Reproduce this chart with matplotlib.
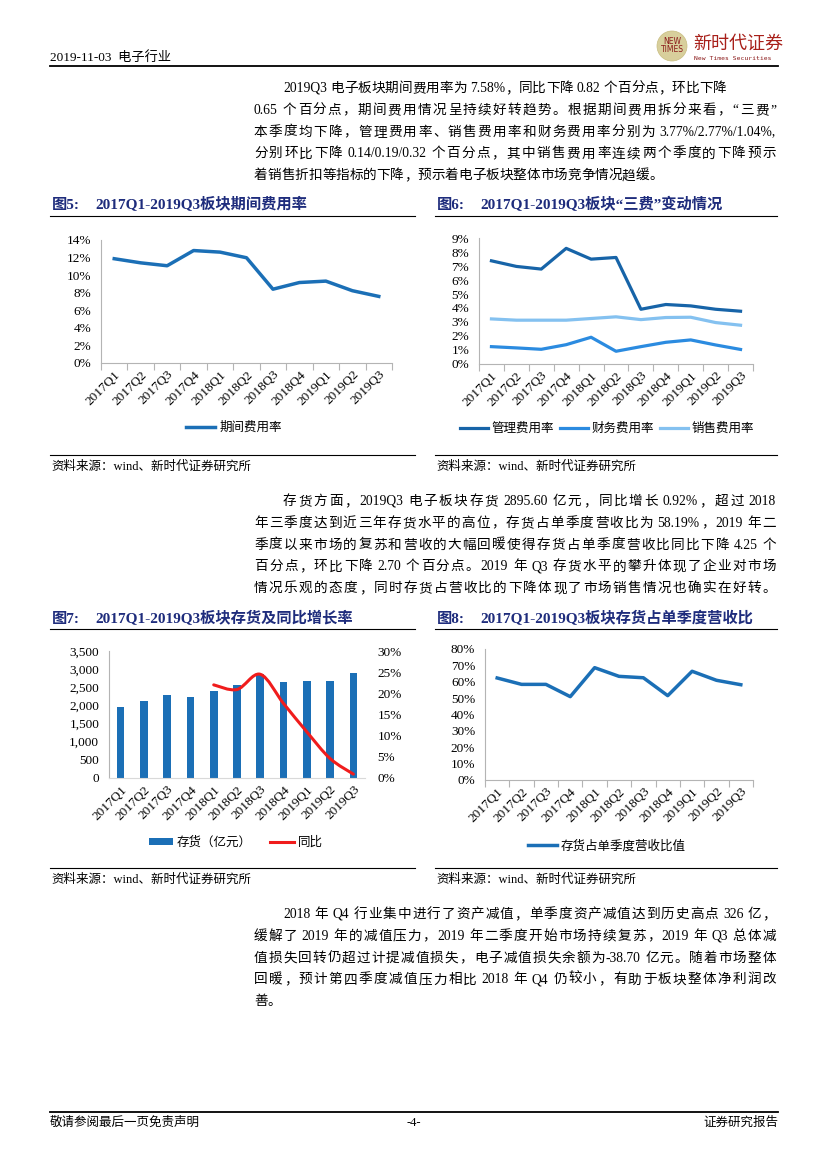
import numpy as np
import matplotlib
matplotlib.use('Agg')
import matplotlib.pyplot as plt
import matplotlib.ticker as mticker
from matplotlib.lines import Line2D
from matplotlib.patches import Ellipse, PathPatch
from matplotlib.path import Path

plt.rcParams['font.family'] = ['Liberation Serif', 'Noto Sans CJK SC']
plt.rcParams['axes.unicode_minus'] = False

# 数据
quarters = ['2017Q1', '2017Q2', '2017Q3', '2017Q4', '2018Q1', '2018Q2',
            '2018Q3', '2018Q4', '2019Q1', '2019Q2', '2019Q3']
qijian = [11.87, 11.40, 11.07, 12.80, 12.62, 11.98, 8.40, 9.16, 9.32, 8.23, 7.58]
guanli = [7.37, 6.97, 6.78, 8.26, 7.49, 7.61, 3.91, 4.25, 4.15, 3.91, 3.77]
caiwu = [1.24, 1.15, 1.05, 1.38, 1.91, 0.91, 1.24, 1.55, 1.72, 1.36, 1.04]
xiaoshou = [3.22, 3.13, 3.13, 3.13, 3.25, 3.37, 3.17, 3.32, 3.34, 2.96, 2.77]
cunhuo = [1966, 2113, 2297, 2232, 2407, 2554, 2869, 2637, 2673, 2673, 2895.6]
tongbi = [22.0, 20.9, 24.5, 17.6, 10.9, 4.6, 0.92]   # 2018Q1 起
zhanbi = [62.3, 58.4, 58.4, 50.9, 68.6, 63.3, 62.44, 51.5, 66.4, 60.89, 58.19]

para1 = ['2019Q3 电子板块期间费用率为 7.58%，同比下降 0.82 个百分点，环比下降',
         '0.65 个百分点，期间费用情况呈持续好转趋势。根据期间费用拆分来看，“三费”',
         '本季度均下降，管理费用率、销售费用率和财务费用率分别为 3.77%/2.77%/1.04%,',
         '分别环比下降 0.14/0.19/0.32 个百分点，其中销售费用率连续两个季度的下降预示',
         '着销售折扣等指标的下降，预示着电子板块整体市场竞争情况趋缓。']
para2 = ['存货方面，2019Q3 电子板块存货 2895.60 亿元，同比增长 0.92%，超过 2018',
         '年三季度达到近三年存货水平的高位，存货占单季度营收比为 58.19%，2019 年二',
         '季度以来市场的复苏和营收的大幅回暖使得存货占单季度营收比同比下降 4.25 个',
         '百分点，环比下降 2.70 个百分点。2019 年 Q3 存货水平的攀升体现了企业对市场',
         '情况乐观的态度，同时存货占营收比的下降体现了市场销售情况也确实在好转。']
para3 = ['2018 年 Q4 行业集中进行了资产减值，单季度资产减值达到历史高点 326 亿，',
         '缓解了 2019 年的减值压力，2019 年二季度开始市场持续复苏，2019 年 Q3 总体减',
         '值损失回转仍超过计提减值损失，电子减值损失余额为-38.70 亿元。随着市场整体',
         '回暖，预计第四季度减值压力相比 2018 年 Q4 仍较小，有助于板块整体净利润改',
         '善。']

W, H = 827, 1169
NAVY = '#1e2c7c'
GRAY = '#b4b4b4'
BLUE = '#1b6fb6'

fig = plt.figure(figsize=(8.27, 11.69), dpi=100)
renderer = fig.canvas.get_renderer()


def fx(x):
    return x / W


def fy(y):
    return 1 - y / H


def hline(x0, x1, y, lw=0.8, color='black'):
    fig.add_artist(Line2D([fx(x0), fx(x1)], [fy(y), fy(y)], lw=lw, color=color))


def add_ax(x0, y0, x1, y1):
    return fig.add_axes([fx(x0), fy(y1), (x1 - x0) / W, (y1 - y0) / H])


# 两端对齐的段落：逐字放置
_wcache = {}


def tok_w(tok, fs):
    key = (tok, fs)
    if key not in _wcache:
        t = fig.text(0, 0, tok, fontsize=fs)
        _wcache[key] = t.get_window_extent(renderer).width
        t.remove()
    return _wcache[key]


def split_tokens(s):
    # 返回 (字块, 前面是否有空格)
    toks, buf, sp = [], '', False
    for ch in s:
        if ch == ' ':
            if buf:
                toks.append((buf, sp))
                buf = ''
            sp = True
        elif ord(ch) < 128:
            buf += ch
        else:
            if buf:
                toks.append((buf, sp))
                buf, sp = '', False
            toks.append((ch, sp))
            sp = False
    if buf:
        toks.append((buf, sp))
    return toks


def paragraph(lines, y_first, dy=21.8, x_left=254, x_right=776, indent=29, fs=9.8):
    space = fs * 100 / 72 * 0.25
    for i, line in enumerate(lines):
        x0 = x_left + (indent if i == 0 else 0)
        y = y_first + i * dy + 5
        toks = split_tokens(line)
        ws = [tok_w(t, fs) for t, _ in toks]
        gaps = [space if sp else 0 for _, sp in toks[1:]]
        total = sum(ws) + sum(gaps)
        avail = x_right - x0
        n = len(toks) - 1
        extra = (avail - total) / n if total > 0.9 * avail and n > 0 else 0
        x = x0
        for k, ((t, sp), w) in enumerate(zip(toks, ws)):
            if k > 0:
                x += extra + (space if sp else 0)
            fig.text(fx(x), fy(y), t, fontsize=fs, va='baseline', ha='left')
            x += w


def style_axes(ax, ymax, ystep, fmt, minor=True):
    ax.set_xlim(-0.5, 10.5)
    ax.set_ylim(0, ymax)
    ax.set_yticks(np.arange(0, ymax + ystep / 2, ystep))
    ax.yaxis.set_major_formatter(mticker.FuncFormatter(fmt))
    ax.set_xticks(range(len(quarters)))
    ax.set_xticklabels(quarters, rotation=45, ha='right', va='top', rotation_mode='anchor')
    if minor:
        ax.set_xticks(np.arange(-0.5, 11, 1), minor=True)
        ax.tick_params(axis='x', which='minor', length=5, color=GRAY, width=0.8)
    ax.tick_params(axis='x', which='major', length=0, pad=4, labelsize=9.5)
    ax.tick_params(axis='y', length=0, pad=7, labelsize=9.5)
    for s in ['top', 'right']:
        ax.spines[s].set_visible(False)
    for s in ['left', 'bottom']:
        ax.spines[s].set_color(GRAY)
        ax.spines[s].set_linewidth(0.8)


pct = lambda v, p: '{:.0f}%'.format(v)

# 页眉
fig.text(fx(50), fy(57), '2019-11-03  电子行业', fontsize=9.5, va='center')
hline(50, 778, 66, lw=1.3)
fig.add_artist(Ellipse((fx(672), fy(46)), 30 / W, 30 / H, facecolor='#d8cf9c',
                       edgecolor='#c8bd80', lw=0.5, transform=fig.transFigure))
fig.text(fx(672), fy(42), 'NEW', fontsize=5.5, color='#8b1a1a', ha='center', va='center',
         family='DejaVu Sans')
fig.text(fx(672), fy(50), 'TIMES', fontsize=5.5, color='#8b1a1a', ha='center', va='center',
         family='DejaVu Sans')
fig.text(fx(693), fy(44), '新时代证券', fontsize=13, color='#a8201a', va='center',
         family='Noto Sans CJK SC')
fig.text(fx(694), fy(58), 'New Times Securities', fontsize=4.6, color='#8b1a1a', va='center',
         family='DejaVu Sans Mono')

paragraph(para1, 87)

# 图5
fig.text(fx(52), fy(205), '图5:', fontsize=11, weight='bold', color=NAVY, va='center')
fig.text(fx(95), fy(205), '2017Q1-2019Q3板块期间费用率', fontsize=11, weight='bold',
         color=NAVY, va='center')
hline(50, 415, 216)
ax5 = add_ax(101, 240, 392, 363)
l5, = ax5.plot(range(11), qijian, color=BLUE, lw=2.5, solid_joinstyle='round')
style_axes(ax5, 14, 2, pct)
fig.legend([l5], ['期间费用率'], loc='center', bbox_to_anchor=(fx(234), fy(428)),
           frameon=False, fontsize=9, handlelength=2.3, handletextpad=0.4)
hline(50, 415, 455)
fig.text(fx(51), fy(467), '资料来源：wind、新时代证券研究所', fontsize=9, va='center')

# 图6
fig.text(fx(437), fy(205), '图6:', fontsize=11, weight='bold', color=NAVY, va='center')
fig.text(fx(480), fy(205), '2017Q1-2019Q3板块“三费”变动情况', fontsize=11, weight='bold',
         color=NAVY, va='center')
hline(435, 777, 216)
ax6 = add_ax(479, 238, 753, 364)
la, = ax6.plot(range(11), guanli, color='#1764a8', lw=2.3)
lb, = ax6.plot(range(11), caiwu, color='#2b8be0', lw=2.3)
lc, = ax6.plot(range(11), xiaoshou, color='#84c1f0', lw=2.3)
style_axes(ax6, 9, 1, pct)
fig.legend([la, lb, lc], ['管理费用率', '财务费用率', '销售费用率'], loc='center',
           bbox_to_anchor=(fx(607), fy(429)), ncol=3, frameon=False, fontsize=9,
           handlelength=2.2, handletextpad=0.3, columnspacing=0.5)
hline(435, 777, 455)
fig.text(fx(436), fy(467), '资料来源：wind、新时代证券研究所', fontsize=9, va='center')

paragraph(para2, 500)

# 图7
fig.text(fx(52), fy(619), '图7:', fontsize=11, weight='bold', color=NAVY, va='center')
fig.text(fx(95), fy(619), '2017Q1-2019Q3板块存货及同比增长率', fontsize=11, weight='bold',
         color=NAVY, va='center')
hline(50, 415, 629)
ax7 = add_ax(109, 651, 365, 778)
bars = ax7.bar(range(11), cunhuo, width=0.33, color=BLUE)
style_axes(ax7, 3500, 500, lambda v, p: '{:,.0f}'.format(v), minor=False)
ax7.spines['bottom'].set_color('#d9d9d9')
ax7b = ax7.twinx()
ax7b.set_ylim(0, 30)
ax7b.set_yticks(np.arange(0, 31, 5))
ax7b.yaxis.set_major_formatter(mticker.FuncFormatter(pct))
ax7b.tick_params(axis='y', length=0, pad=9, labelsize=9.5)
for s in ax7b.spines.values():
    s.set_visible(False)
# 平滑曲线（Catmull-Rom 转三次贝塞尔）
px = np.arange(4, 11, dtype=float)
py = np.array(tongbi)
pts = np.column_stack([px, py])
ext = np.vstack([pts[0], pts, pts[-1]])
verts = [tuple(pts[0])]
codes = [Path.MOVETO]
for i in range(len(pts) - 1):
    p0, p1, p2, p3 = ext[i], ext[i + 1], ext[i + 2], ext[i + 3]
    verts += [tuple(p1 + (p2 - p0) / 6), tuple(p2 - (p3 - p1) / 6), tuple(p2)]
    codes += [Path.CURVE4] * 3
ax7b.add_patch(PathPatch(Path(verts, codes), fill=False, edgecolor='#f01c1c', lw=2.2,
                         capstyle='round'))
red = Line2D([], [], color='#f01c1c', lw=2.2)
fig.legend([bars, red], ['存货（亿元）', '同比'], loc='center',
           bbox_to_anchor=(fx(236), fy(843)), ncol=2, frameon=False, fontsize=9,
           handlelength=1.9, handleheight=0.5, handletextpad=0.3, columnspacing=1.5)
hline(50, 415, 868)
fig.text(fx(51), fy(880), '资料来源：wind、新时代证券研究所', fontsize=9, va='center')

# 图8
fig.text(fx(437), fy(619), '图8:', fontsize=11, weight='bold', color=NAVY, va='center')
fig.text(fx(480), fy(619), '2017Q1-2019Q3板块存货占单季度营收比', fontsize=11, weight='bold',
         color=NAVY, va='center')
hline(435, 777, 629)
ax8 = add_ax(485, 649, 753, 780)
l8, = ax8.plot(range(11), zhanbi, color=BLUE, lw=2.5)
style_axes(ax8, 80, 10, pct)
fig.legend([l8], ['存货占单季度营收比值'], loc='center', bbox_to_anchor=(fx(607), fy(846)),
           frameon=False, fontsize=9, handlelength=2.3, handletextpad=0.3)
hline(435, 777, 868)
fig.text(fx(436), fy(880), '资料来源：wind、新时代证券研究所', fontsize=9, va='center')

paragraph(para3, 913)

# 页脚
hline(50, 778, 1112, lw=1.3)
fig.text(fx(50), fy(1123), '敬请参阅最后一页免责声明', fontsize=9, va='center')
fig.text(fx(414), fy(1123), '-4-', fontsize=9, va='center', ha='center')
fig.text(fx(778), fy(1123), '证券研究报告', fontsize=9, va='center', ha='right')

fig.savefig('out.png', dpi=100)
